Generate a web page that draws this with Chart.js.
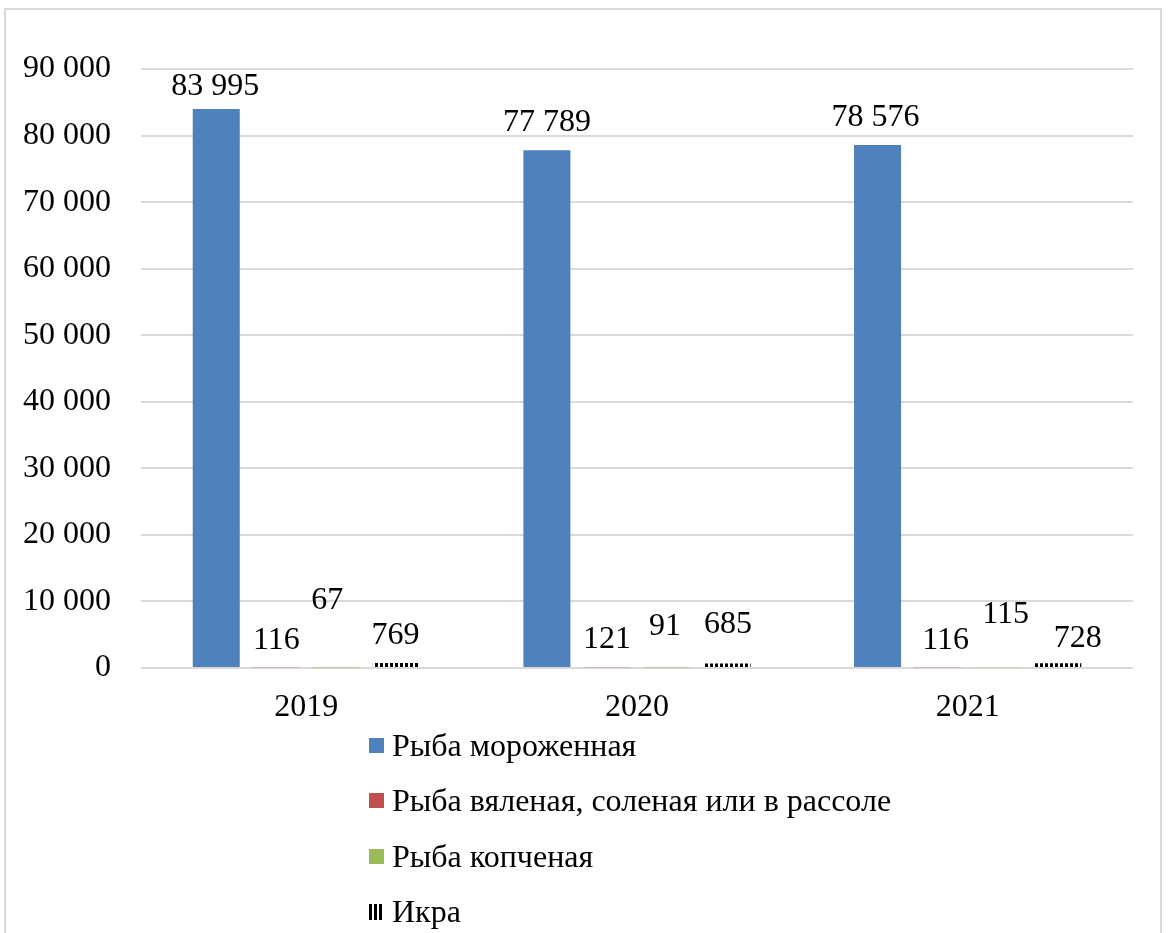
<!DOCTYPE html>
<html>
<head>
<meta charset="utf-8">
<script src="https://cdn.jsdelivr.net/npm/chart.js@4.4.1/dist/chart.umd.min.js"></script>
<style>
  html, body { margin: 0; padding: 0; background: #fff; }
  body { width: 1168px; height: 933px; position: relative; overflow: hidden; font-family: "Liberation Serif", "Times New Roman", serif; }
  #frame { position: absolute; left: 4px; top: 8px; width: 1158px; height: 940px; border: 2px solid #d9d9d9; box-sizing: border-box; }
  #wrap { position: absolute; left: 0; top: 0; width: 1168px; height: 933px; }
  #legend { position: absolute; left: 369px; top: 718px; font-size: 32px; color: #000; }
  .item { height: 55.3px; display: flex; align-items: center; white-space: nowrap; }
  .box { width: 15px; height: 15px; margin-right: 8px; display: inline-block; }
  .stripes { width: 15px; height: 16px; margin-right: 8px; display: inline-block;
    background: repeating-linear-gradient(90deg, #000 0 3px, #fff 3px 5px); }
</style>
</head>
<body>
<div id="frame"></div>
<div id="wrap"><canvas id="c" width="1168" height="933"></canvas></div>
<div id="legend"></div>
<script>
const categories = ["2019", "2020", "2021"];
const seriesNames = ["Рыба мороженная", "Рыба вяленая, соленая или в рассоле", "Рыба копченая", "Икра"];
const frozen = [83995, 77789, 78576];
const dried = [116, 121, 116];
const smoked = [67, 91, 115];
const caviar = [769, 685, 728];
const yTicks = [0, 10000, 20000, 30000, 40000, 50000, 60000, 70000, 80000, 90000];

// label offsets (style only): [dx, dy] of the digit centre relative to the bar top centre
const labelOffsets = [
  [[-1, -25], [0, -30], [-2, -30]],
  [[0, -29], [0, -30], [8, -29]],
  [[-9, -70], [-2, -43], [8, -55]],
  [[-1, -30], [1, -41], [20, -27]]
];

function fmt(v) { return String(v).replace(/\B(?=(\d{3})+(?!\d))/g, ' '); }

function stripePattern() {
  const p = document.createElement('canvas');
  p.width = 5; p.height = 5;
  const g = p.getContext('2d');
  g.fillStyle = '#fff'; g.fillRect(0, 0, 5, 5);
  g.fillStyle = '#000'; g.fillRect(0, 0, 3, 5);
  return g.createPattern(p, 'repeat');
}

const colors = ['#4f81bd', '#c0504d', '#9bbb59', null];

const labelPlugin = {
  id: 'valueLabels',
  afterDatasetsDraw(chart) {
    const ctx = chart.ctx;
    ctx.save();
    ctx.font = '32px "Liberation Serif", "Times New Roman", serif';
    ctx.fillStyle = '#000';
    ctx.textAlign = 'center';
    ctx.textBaseline = 'alphabetic';
    chart.data.datasets.forEach((ds, di) => {
      const meta = chart.getDatasetMeta(di);
      meta.data.forEach((el, i) => {
        const off = labelOffsets[di][i];
        const x = el.x + off[0];
        const yc = el.y + off[1];
        ctx.fillText(fmt(ds.data[i]), x, yc + 11);
      });
    });
    ctx.restore();
  }
};

const datasets = [frozen, dried, smoked, caviar].map((d, i) => ({
  label: seriesNames[i],
  data: d,
  backgroundColor: colors[i] || stripePattern(),
  borderWidth: 0,
  barPercentage: 0.783,
  categoryPercentage: 0.7266
}));

new Chart(document.getElementById('c'), {
  type: 'bar',
  data: { labels: categories, datasets },
  options: {
    responsive: false,
    animation: false,
    devicePixelRatio: 1,
    layout: { padding: { top: 69, right: 35, left: 0, bottom: 0 } },
    plugins: { legend: { display: false }, tooltip: { enabled: false }, title: { display: false } },
    scales: {
      x: {
        grid: { display: false, drawTicks: false },
        border: { display: false },
        ticks: { color: '#000', font: { family: '"Liberation Serif", "Times New Roman", serif', size: 32 }, padding: 20 },
        afterFit(s) { s.height = 933 - 668; }
      },
      y: {
        min: 0, max: 90000,
        afterBuildTicks(s) { s.ticks = yTicks.map(v => ({ value: v })); },
        grid: { color: '#d9d9d9', lineWidth: 2, drawTicks: false },
        border: { display: false },
        ticks: { color: '#000', font: { family: '"Liberation Serif", "Times New Roman", serif', size: 32 }, padding: 30,
          callback: (v) => fmt(v) },
        afterFit(s) { s.width = 141; }
      }
    }
  },
  plugins: [labelPlugin]
});

const leg = document.getElementById('legend');
seriesNames.forEach((n, i) => {
  const row = document.createElement('div');
  row.className = 'item';
  const m = document.createElement('span');
  if (colors[i]) { m.className = 'box'; m.style.background = colors[i]; }
  else { m.className = 'stripes'; }
  row.appendChild(m);
  const t = document.createElement('span');
  t.textContent = n;
  row.appendChild(t);
  leg.appendChild(row);
});
</script>
</body>
</html>
